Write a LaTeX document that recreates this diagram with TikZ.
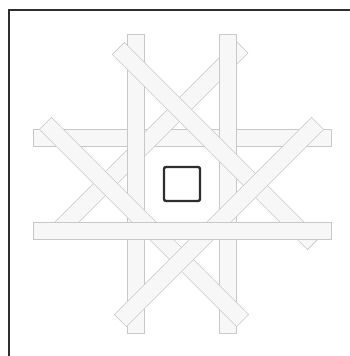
\documentclass[tikz,border=0pt]{standalone}
\usepackage{xcolor}
\usepackage{tikz}
\usetikzlibrary{positioning}

\definecolor{barfill}{HTML}{F7F7F7}
\definecolor{barline}{HTML}{C8C8C8}
\definecolor{darkline}{HTML}{2E2E2E}

\begin{document}
\begin{tikzpicture}[x=1pt, y=-1pt,
    bar/.style={rectangle, draw=barline, fill=barfill, line width=0.6pt, inner sep=0pt, minimum height=17pt},
    centerbox/.style={rectangle, draw=darkline, line width=2.4pt, rounded corners=2pt, minimum width=36pt, minimum height=34pt, inner sep=0pt},
]
    \useasboundingbox (0,0) rectangle (349,356);
    \fill[white] (0,0) rectangle (349,356);

    % Outer frame
    \draw[darkline, line width=2pt] (9,10) rectangle (360,370);

    % Woven bars, back to front
    \node[bar, minimum width=298pt] (topbar) at (182,137.5) {};
    \node[bar, minimum width=256pt, rotate=45] (diagC) at (151.5,137.5) {};
    \node[bar, minimum width=299pt, rotate=90] (leftbar) at (136,183.5) {};
    \node[bar, minimum width=299pt, rotate=90] (rightbar) at (227.5,183.5) {};
    \node[bar, minimum width=276pt, rotate=-45] (diagA) at (216,146) {};
    \node[bar, minimum width=279pt, rotate=-45] (diagB) at (144,222) {};
    \node[bar, minimum width=279pt, rotate=45] (diagD) at (219,222) {};
    \node[bar, minimum width=298pt] (bottombar) at (182,230.5) {};

    % Centre square
    \node[centerbox] (centre) at (182,184) {};

\end{tikzpicture}
\end{document}
